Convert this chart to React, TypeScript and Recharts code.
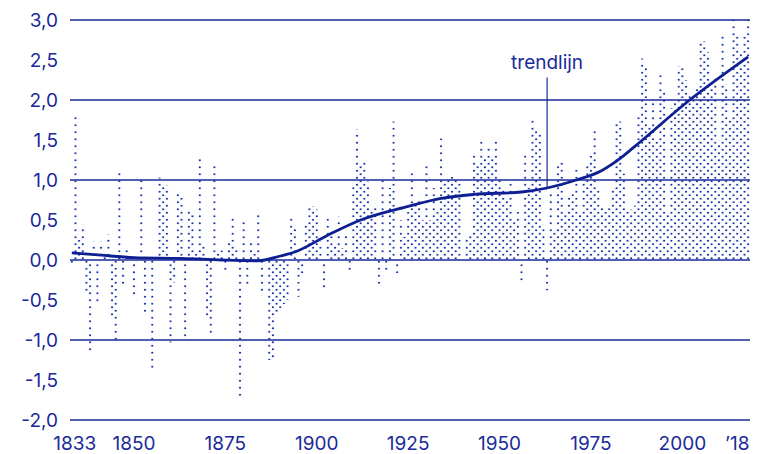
import {
  Bar,
  ComposedChart,
  Line,
  ReferenceLine,
  XAxis,
  YAxis,
} from "recharts";

// Temperature anomaly per year, 1833 to 2018
const firstYear = 1833;

const anomalies: number[] = [
  // 1833-1877
  -0.05, 1.8, 0.25, 0.45, -0.42, -1.15, 0.23, -0.55, 0.23, 0.1,
  0.32, -0.72, -1.03, 1.12, -0.3, 0.18, 0.05, -0.45, 0.05, 1.02,
  -0.67, 0.07, -1.35, 0.07, 1.03, 0.97, 0.93, -1.03, -0.28, 0.83,
  0.81, -0.97, 0.63, 0.6, 0.08, 1.32, 0.19, -0.75, -0.95, 1.22,
  0.1, 0.12, -0.17, 0.23, 0.55,
  // 1878-1921
  0.13, -1.71, 0.5, -0.3, 0.23, 0.08, 0.62, -0.45, -0.05, -1.25,
  -1.25, -0.67, -0.6, -0.55, -0.5, 0.54, 0.44, -0.46, -0.17, 0.44,
  0.71, 0.67, 0.63, 0.23, -0.35, 0.54, 0.33, 0.2, 0.54, 0.15,
  0.3, -0.17, 0.94, 1.63, 1.2, 1.23, 0.98, 0.63, 0.71, -0.33,
  1.0, -0.15, 0.9, 1.73,
  // 1922-1963
  -0.17, 0.5, 0.29, 0.6, 1.12, 0.75, 0.8, 0.5, 1.23, 0.5,
  0.9, 0.6, 1.52, 1.0, 1.04, 1.04, 1.04, 0.96, -0.04, 0.29,
  0.3, 1.31, 1.2, 1.52, 1.3, 1.42, 1.3, 1.52, 1.0, 0.9,
  0.8, 0.96, 0.5, 0.6, -0.31, 1.33, 0.9, 1.79, 1.63, 1.6,
  0.45, -0.38,
  // 1964-2018
  0.83, 0.4, 1.23, 1.23, 0.6, 0.83, 0.85, 1.13, 0.6, 1.0,
  1.2, 1.3, 1.62, 0.92, 0.68, 0.6, 0.7, 0.92, 1.73, 1.73,
  1.08, 0.6, 0.63, 0.68, 1.83, 2.52, 2.42, 1.67, 2.0, 1.5,
  2.33, 2.1, 0.6, 1.9, 2.0, 2.42, 2.42, 2.25, 2.1, 2.0,
  2.2, 2.73, 2.73, 2.6, 2.2, 2.3, 1.5, 2.85, 2.2, 1.8,
  3.12, 2.85, 2.6, 2.8, 3.12,
];

// points
const trendYears = [
  1833, 1841, 1850, 1863, 1874, 1884, 1890, 1894, 1903, 1912, 1925,
  1934, 1943, 1956, 1963, 1971, 1978, 1983, 1987, 2002, 2018,
];
const trendValues = [
  0.09, 0.06, 0.03, 0.02, 0.0, -0.01, 0.05, 0.1, 0.31, 0.5, 0.67,
  0.77, 0.82, 0.85, 0.9, 1.0, 1.12, 1.27, 1.42, 2.0, 2.54,
];

const yTicks = [-2, -1.5, -1, -0.5, 0, 0.5, 1, 1.5, 2, 2.5, 3];
const gridValues = [-2, -1, 0, 1, 2, 3];
const xLabels: Record<number, string> = {
  1833: "1833",
  1850: "1850",
  1875: "1875",
  1900: "1900",
  1925: "1925",
  1950: "1950",
  1975: "1975",
  2000: "2000",
  2018: "\u201918",
};

const data = anomalies.map((value, i) => {
  const year = firstYear + i;
  const t = trendYears.indexOf(year);
  return { year, value, trend: t >= 0 ? trendValues[t] : null };
});

const blue = "#1a2a9a";
const font = "Inter, 'Liberation Sans', Arial, sans-serif";

const XTick = (props: any) => {
  const { x, y, payload } = props;
  const label = xLabels[payload.value];
  if (!label) return <g />;
  let dx = 0;
  if (payload.value === 1833) dx = 3;
  if (payload.value === 2018) dx = -11;
  return (
    <text
      x={x + dx}
      y={y}
      dy={14}
      textAnchor="middle"
      fill={blue}
      fontSize={19}
      fontFamily={font}
    >
      {label}
    </text>
  );
};

export default function App() {
  return (
    <div style={{ position: "absolute", left: 0, top: 0, background: "#fff" }}>
      <ComposedChart
        width={763}
        height={454}
        data={data}
        margin={{ top: 20, right: 13, left: 8, bottom: 4 }}
        barCategoryGap={0}
        barGap={0}
      >
        <defs>
          <pattern
            id="dots"
            patternUnits="userSpaceOnUse"
            width={7.312}
            height={7}
            patternTransform="translate(70,1)"
          >
            <circle cx={1.83} cy={1.75} r={1.1} fill="#1530a8" />
            <circle cx={5.48} cy={5.25} r={1.1} fill="#1530a8" />
          </pattern>
        </defs>
        <XAxis
          dataKey="year"
          type="category"
          interval={0}
          tick={<XTick />}
          tickLine={false}
          axisLine={false}
          height={30}
          tickMargin={10}
        />
        <YAxis
          type="number"
          domain={[-2, 3]}
          ticks={yTicks}
          allowDataOverflow
          width={62}
          axisLine={false}
          tickLine={false}
          tickMargin={6}
          tickFormatter={(v: number) => v.toFixed(1).replace(".", ",")}
          tick={{ fill: blue, fontSize: 19, fontFamily: font }}
        />
        {gridValues.map((g) => (
          <ReferenceLine key={g} y={g} stroke={blue} strokeWidth={1.4} />
        ))}
        <Bar dataKey="value" fill="url(#dots)" isAnimationActive={false} />
        <Line
          dataKey="trend"
          type="monotone"
          stroke="#0e1f92"
          strokeWidth={2.8}
          dot={false}
          activeDot={false}
          connectNulls
          isAnimationActive={false}
        />
        <ReferenceLine
          segment={[
            { x: 1963, y: 0.9 },
            { x: 1963, y: 2.28 },
          ]}
          stroke={blue}
          strokeWidth={1.2}
          label={{
            value: "trendlijn",
            position: "top",
            offset: 9,
            fill: blue,
            fontSize: 19,
            fontFamily: font,
          }}
        />
      </ComposedChart>
    </div>
  );
}
